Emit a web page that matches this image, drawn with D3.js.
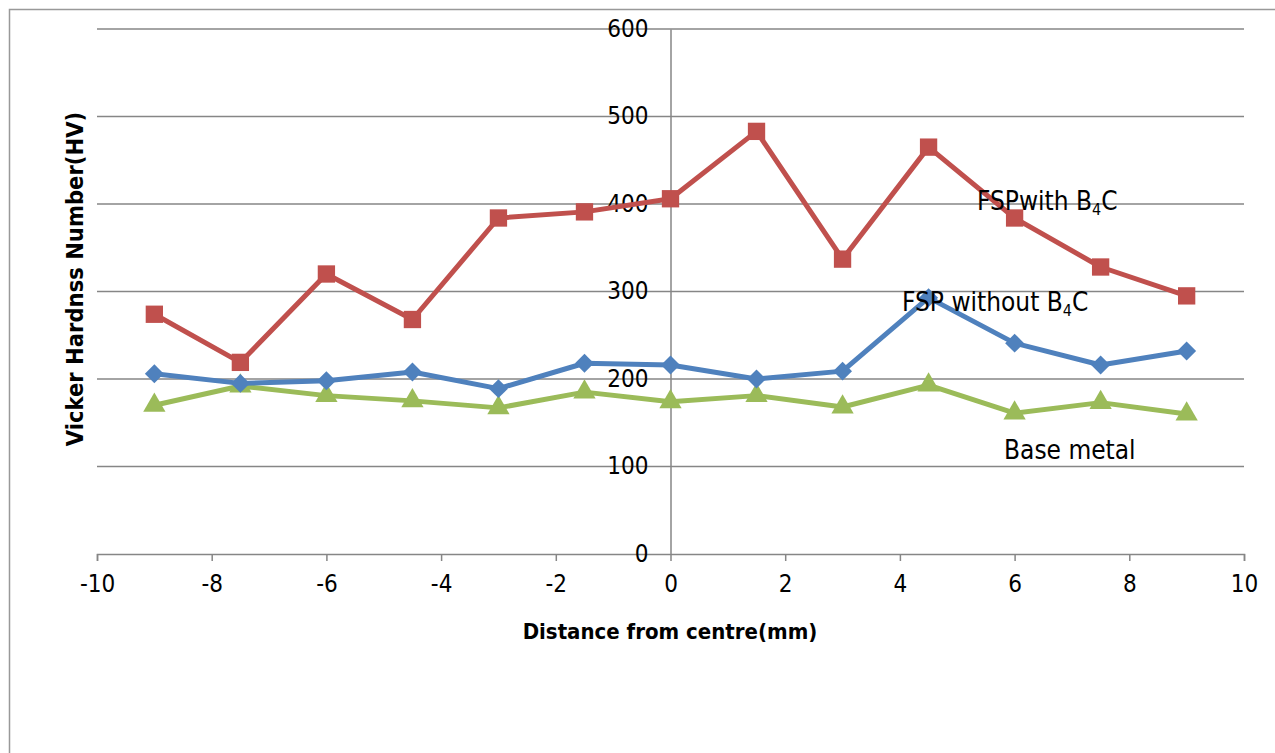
<!DOCTYPE html>
<html>
<head>
<meta charset="utf-8">
<script src="https://cdn.jsdelivr.net/npm/d3@7"></script>
<style>
  body { margin: 0; background: #fff; }
  text { font-family: "DejaVu Sans Condensed", "Liberation Sans Narrow", sans-serif; }
</style>
</head>
<body>
<svg id="chart" width="1275" height="753"></svg>
<script>
const distance = [-9, -7.5, -6, -4.5, -3, -1.5, 0, 1.5, 3, 4.5, 6, 7.5, 9]
const withB4C = [274, 219, 320, 268, 384, 391, 406, 483, 337, 465, 384, 328, 295]
const withoutB4C = [206, 195, 198, 208, 189, 218, 216, 200, 209, 293, 241, 216, 232]
const baseMetal = [170, 192, 181, 175, 167, 185, 174, 181, 168, 193, 161, 173, 160]
const xTicks = [-10, -8, -6, -4, -2, 0, 2, 4, 6, 8, 10]
const yTicks = [0, 100, 200, 300, 400, 500, 600]

const svg = d3.select('#chart')
const margin = {left: 97, top: 29}
const width = 1147
const height = 525
const fontFam = '"DejaVu Sans Condensed", "Liberation Sans Narrow", sans-serif'

// outer frame
svg.append('rect')
    .attr('x', 9.5).attr('y', 9.5)
    .attr('width', 1300).attr('height', 800)
    .attr('fill', 'none').attr('stroke', '#999').attr('stroke-width', 1.5)

const g = svg.append('g').attr('transform', `translate(${margin.left},${margin.top})`)

const xScale = d3.scaleLinear().domain([-10, 10]).range([0, width])
const yScale = d3.scaleLinear().domain([0, 600]).range([height, 0])

// gridlines
g.append('g')
    .selectAll('line')
    .data(yTicks.filter(d => d > 0))
    .enter()
    .append('line')
    .attr('x1', 0).attr('x2', width)
    .attr('y1', d => yScale(d)).attr('y2', d => yScale(d))
    .attr('stroke', '#868686').attr('stroke-width', 1.5)

// x axis
const xAxis = g.append('g')
    .attr('transform', `translate(0,${height})`)
    .call(d3.axisBottom(xScale).tickValues(xTicks).tickSize(7).tickPadding(14).tickFormat(d3.format('d')))
xAxis.select('.domain').attr('stroke', '#868686').attr('stroke-width', 1.5)
xAxis.selectAll('.tick line').attr('stroke', '#868686').attr('stroke-width', 1.5)
xAxis.selectAll('.tick text')
    .attr('font-size', 24).attr('fill', '#000')
    .style('font-family', fontFam)
    .text(d => d < 0 ? '-' + Math.abs(d) : d)

// y axis at x = 0
const yAxis = g.append('g')
    .attr('transform', `translate(${xScale(0)},0)`)
    .call(d3.axisLeft(yScale).tickValues(yTicks).tickSize(0).tickPadding(22))
yAxis.select('.domain').attr('stroke', '#868686').attr('stroke-width', 1.5)
yAxis.selectAll('.tick text')
    .attr('font-size', 24).attr('fill', '#000').attr('dy', '0.3em')
    .style('font-family', fontFam)

const line = d3.line().x((d, i) => xScale(distance[i])).y(d => yScale(d))

const series = [
    {values: baseMetal, color: '#9bbb59', symbol: d3.symbolTriangle, size: 215, rotate: 0},
    {values: withoutB4C, color: '#4f81bd', symbol: d3.symbolSquare, size: 180, rotate: 45},
    {values: withB4C, color: '#c0504d', symbol: d3.symbolSquare, size: 300, rotate: 0},
]

series.forEach(s => {
    g.append('path')
        .datum(s.values)
        .attr('fill', 'none')
        .attr('stroke', s.color)
        .attr('stroke-width', 5)
        .attr('stroke-linejoin', 'round')
        .attr('d', line)

    g.append('g')
        .selectAll('path')
        .data(s.values)
        .enter()
        .append('path')
        .attr('transform', (d, i) => `translate(${xScale(distance[i])},${yScale(d)}) rotate(${s.rotate})`)
        .attr('d', d3.symbol().type(s.symbol).size(s.size))
        .attr('fill', s.color)
})

// series labels
const labels = [
    {x: 977, y: 210, parts: ['FSPwith B', '4', 'C']},
    {x: 902, y: 311, parts: ['FSP without B', '4', 'C']},
    {x: 1004, y: 459, parts: ['Base metal']},
]
labels.forEach(l => {
    const t = svg.append('text').attr('x', l.x).attr('y', l.y).attr('font-size', 26).attr('fill', '#000')
    l.parts.forEach((p, i) => {
        const ts = t.append('tspan').text(p)
        if (i === 1) ts.attr('font-size', 16).attr('dy', 5)
        if (i === 2) ts.attr('dy', -5)
    })
})

// axis titles
svg.append('text')
    .attr('x', 670).attr('y', 639)
    .attr('text-anchor', 'middle')
    .attr('font-size', 22).attr('font-weight', 'bold')
    .text('Distance from centre(mm)')

svg.append('text')
    .attr('transform', 'translate(83,279) rotate(-90)')
    .attr('text-anchor', 'middle')
    .attr('font-size', 23.5).attr('font-weight', 'bold')
    .text('Vicker Hardnss Number(HV)')
</script>
</body>
</html>
